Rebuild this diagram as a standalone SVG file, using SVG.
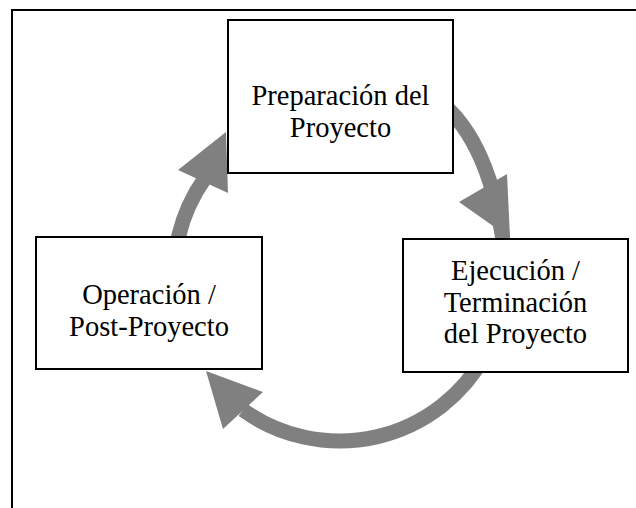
<svg xmlns="http://www.w3.org/2000/svg" width="636" height="508" viewBox="0 0 636 508">
<style>
.frame{fill:none;stroke:#000;stroke-width:2}
.box{fill:#fff;stroke:#000;stroke-width:2}
.shaft{fill:none;stroke:#808080;stroke-width:15}
.head{fill:#808080;stroke:none}
text{font-family:"Liberation Serif","Times New Roman",serif;font-size:28.5px;fill:#000;text-anchor:middle}
</style>
<rect width="636" height="508" fill="#fff"/>
<g id="frame">
<path class="frame" d="M12 508 V10 H636"/>
</g>
<g id="connectors">
<g id="arrow-left-top">
<path class="shaft" d="M176 300 A167 167 0 0 1 205 178"/>
<polygon class="head" points="178,170 226,132 228,193"/>
</g>
<g id="arrow-top-right">
<path class="shaft" d="M430 95 C468 118 494 170 504 248"/>
<polygon class="head" points="459,202 507,174 510,238"/>
</g>
<g id="arrow-right-left">
<path class="shaft" d="M485 355 A166 166 0 0 1 243 410"/>
<polygon class="head" points="263,392 223,429 206,371"/>
</g>
</g>
<g id="node-preparacion">
<rect class="box" x="228" y="20" width="225" height="153"/>
<text x="340.5" y="105">Preparación del</text>
<text x="340.5" y="137">Proyecto</text>
</g>
<g id="node-operacion">
<rect class="box" x="36" y="237" width="226" height="132"/>
<text x="149" y="304">Operación /</text>
<text x="149" y="336">Post-Proyecto</text>
</g>
<g id="node-ejecucion">
<rect class="box" x="403" y="239" width="225" height="133"/>
<text x="515.5" y="280">Ejecución /</text>
<text x="515.5" y="312">Terminación</text>
<text x="515.5" y="343">del Proyecto</text>
</g>
</svg>
